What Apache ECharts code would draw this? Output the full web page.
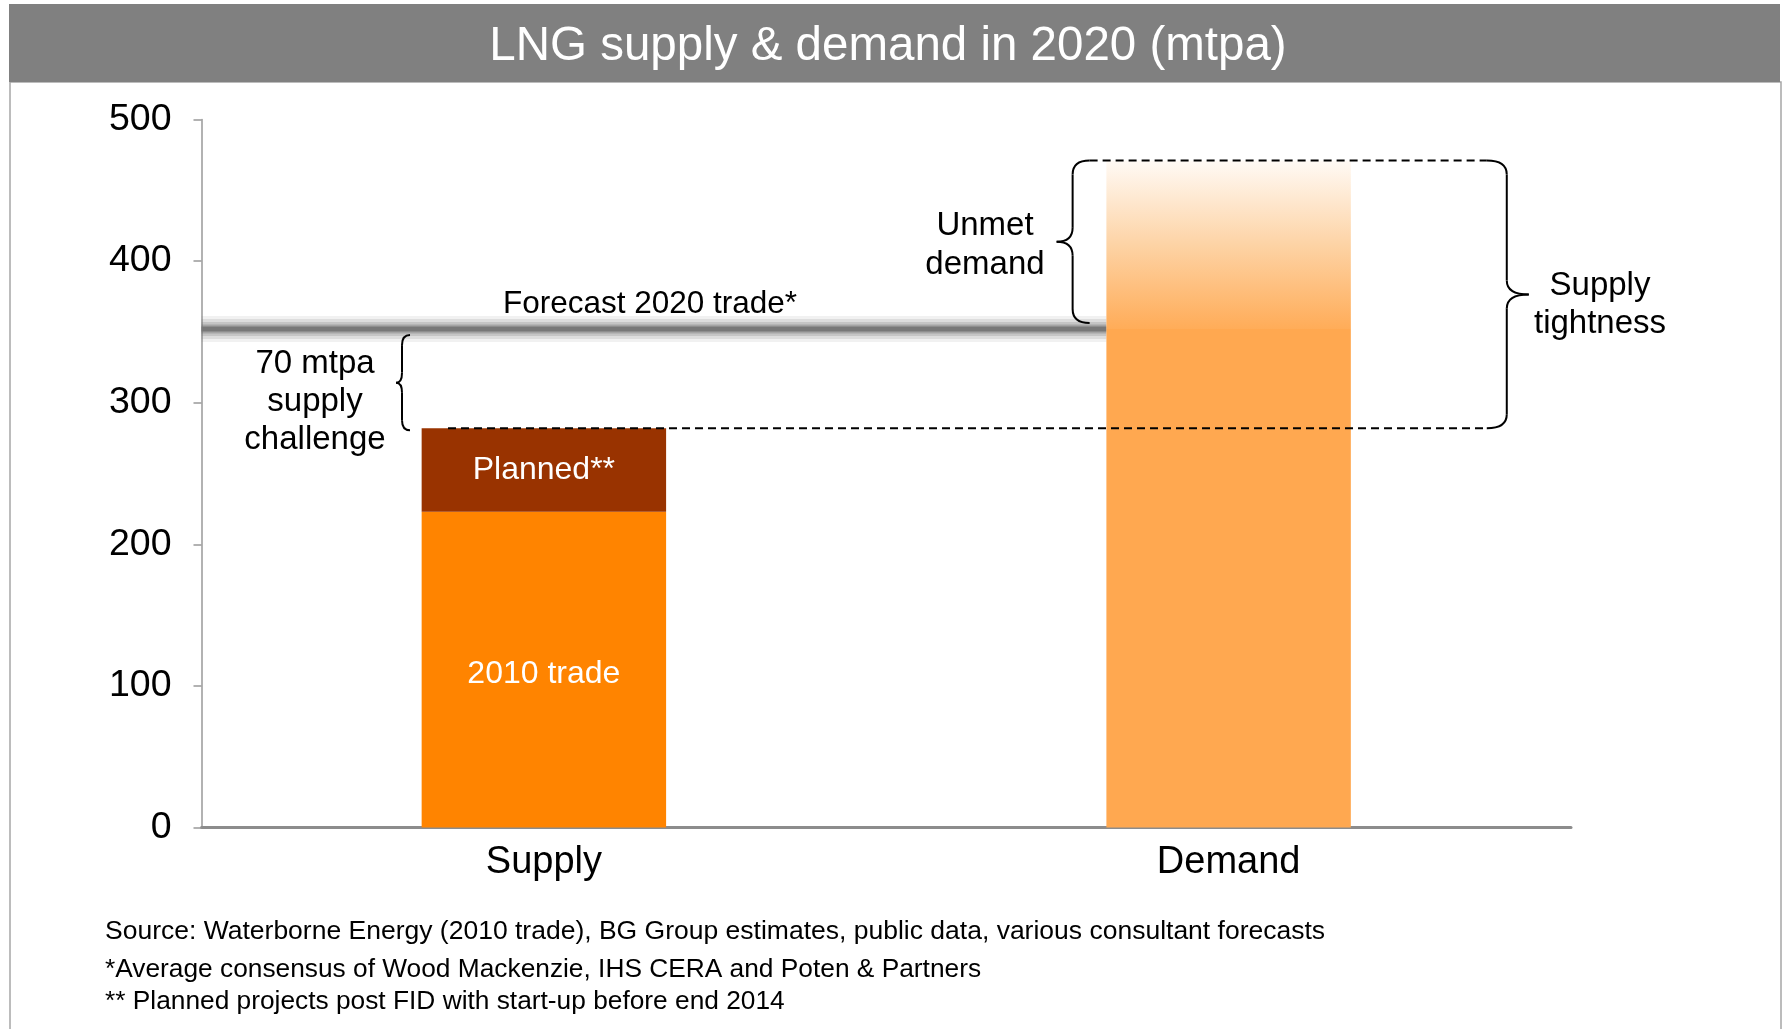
<!DOCTYPE html>
<html>
<head>
<meta charset="utf-8">
<script src="https://cdn.jsdelivr.net/npm/echarts@6/dist/echarts.min.js"></script>
<style>
html,body{margin:0;padding:0;background:#fff;}
#c{width:1785px;height:1029px;}
</style>
</head>
<body>
<div id="c"></div>
<script>
// ---- data ----
const categories = ['Supply', 'Demand'];
const trade2010 = [223, '-'];
const plannedProjects = [59, '-'];
const demandMet = ['-', 352];
const demandUnmet = ['-', 119];
const forecast2020 = 352;
const yMin = 0, yMax = 500, yInterval = 100;

const supplyTotal = trade2010[0] + plannedProjects[0];
const demandTotal = demandMet[1] + demandUnmet[1];

const FONT = "'Liberation Sans', Arial, sans-serif";
const BAR_FRAC = 0.357;
const demandLeftX = 1.5 - BAR_FRAC / 2;

const chart = echarts.init(document.getElementById('c'), null, {renderer: 'canvas'});

function txt(text, x, y, size, opts) {
  opts = opts || {};
  return {
    type: 'text', x: x, y: y, z: 100,
    style: {
      text: text,
      font: 'normal ' + size + 'px ' + FONT,
      fill: opts.fill || '#000',
      align: opts.align || 'center', textAlign: opts.align || 'center',
      verticalAlign: 'middle', textVerticalAlign: 'middle',
      lineHeight: opts.lineHeight || size * 1.2
    }
  };
}

const baseGraphic = [
  {type: 'rect', shape: {x: 10, y: 82, width: 1771, height: 1000}, style: {fill: 'none', stroke: '#a6a6a6', lineWidth: 1.5}, z: 0},
  {type: 'rect', shape: {x: 9, y: 4, width: 1771, height: 78}, style: {fill: '#808080'}, z: 1},
  txt('LNG supply & demand in 2020 (mtpa)', 888, 47, 47.5, {fill: '#fff'}),
  txt('Forecast 2020 trade*', 650, 304, 31.5),
  txt('70 mtpa\nsupply\nchallenge', 315, 402, 33, {lineHeight: 38}),
  txt('Unmet\ndemand', 985, 245, 33, {lineHeight: 39}),
  txt('Supply\ntightness', 1600, 305, 33, {lineHeight: 38}),
  txt('Source: Waterborne Energy (2010 trade), BG Group estimates, public data, various consultant forecasts', 105, 932, 26.5, {align: 'left'}),
  txt('*Average consensus of Wood Mackenzie, IHS CERA and Poten & Partners', 105, 970, 26.3, {align: 'left'}),
  txt('** Planned projects post FID with start-up before end 2014', 105, 1002, 26.3, {align: 'left'})
];

const dashStyle = {color: '#000', width: 2, type: [8, 5]};

function forecastLayer(width, color) {
  return {
    name: 'Forecast', type: 'line', xAxisIndex: 1, yAxisIndex: 0, z: 1,
    symbol: 'none', silent: true,
    data: [[0, forecast2020], [demandLeftX, forecast2020]],
    lineStyle: {color: color, width: width, cap: 'butt'}
  };
}

const option = {
  animation: false,
  backgroundColor: '#fff',
  grid: {left: 201.5, right: 214, top: 119.5, bottom: 201.4, containLabel: false},
  xAxis: [
    {
      type: 'category', data: categories, position: 'bottom',
      axisLine: {show: true, lineStyle: {color: '#8c8c8c', width: 3}},
      axisTick: {show: false},
      axisLabel: {fontSize: 38, color: '#000', fontFamily: FONT, margin: 16},
      splitLine: {show: false}
    },
    {type: 'value', min: 0, max: 2, show: false, position: 'bottom'}
  ],
  yAxis: {
    type: 'value', min: yMin, max: yMax, interval: yInterval,
    axisLine: {show: true, lineStyle: {color: '#999', width: 1.5}},
    axisTick: {show: true, length: 8, lineStyle: {color: '#999', width: 1.5}},
    axisLabel: {fontSize: 37.5, color: '#000', fontFamily: FONT, margin: 30},
    splitLine: {show: false}
  },
  series: [
    {
      name: '2010 trade', type: 'bar', stack: 's', barWidth: (BAR_FRAC * 100) + '%',
      data: trade2010, itemStyle: {color: '#FF8400'}, z: 3,
      label: {show: true, position: 'inside', offset: [0, 4], formatter: '2010 trade', color: '#fff', fontSize: 32, fontFamily: FONT}
    },
    {
      name: 'Planned**', type: 'bar', stack: 's', data: plannedProjects,
      itemStyle: {color: '#993300'}, z: 3,
      label: {show: true, position: 'inside', formatter: 'Planned**', color: '#fff', fontSize: 32, fontFamily: FONT}
    },
    {
      name: 'Demand', type: 'bar', stack: 's', data: demandMet,
      itemStyle: {color: '#FFA850'}, z: 3
    },
    {
      name: 'Unmet demand', type: 'bar', stack: 's', data: demandUnmet, z: 3,
      itemStyle: {color: new echarts.graphic.LinearGradient(0, 0, 0, 1, [
        {offset: 0, color: '#FFFAF5'},
        {offset: 0.5, color: '#FDD3A5'},
        {offset: 1, color: '#FFAC58'}
      ])}
    },
    forecastLayer(26, 'rgba(120,120,120,0.10)'),
    forecastLayer(20, 'rgba(120,120,120,0.16)'),
    forecastLayer(14, 'rgba(120,120,120,0.24)'),
    forecastLayer(9, 'rgba(110,110,110,0.38)'),
    forecastLayer(5, '#787878'),
    {
      name: 'SupplyLevel', type: 'line', xAxisIndex: 1, yAxisIndex: 0, z: 5,
      symbol: 'none', silent: true,
      data: [[0.36, supplyTotal], [1.877, supplyTotal]],
      lineStyle: dashStyle
    },
    {
      name: 'DemandLevel', type: 'line', xAxisIndex: 1, yAxisIndex: 0, z: 5,
      symbol: 'none', silent: true,
      data: [[1.297, demandTotal], [1.877, demandTotal]],
      lineStyle: dashStyle
    }
  ],
  graphic: baseGraphic
};
chart.setOption(option);

function px(x, y) { return chart.convertToPixel({xAxisIndex: 1, yAxisIndex: 0}, [x, y]); }

const braceStyle = {fill: 'none', stroke: '#000', lineWidth: 2};
function curve(x1, y1, cx, cy, x2, y2) {
  return {type: 'bezierCurve', z: 50, shape: {x1: x1, y1: y1, cpx1: cx, cpy1: cy, x2: x2, y2: y2}, style: braceStyle};
}
function seg(x1, y1, x2, y2) {
  return {type: 'line', z: 50, shape: {x1: x1, y1: y1, x2: x2, y2: y2}, style: braceStyle};
}
// brace: xEnd = open ends, xStem = vertical stem, xTip = point
function brace(xEnd, xStem, xTip, yTop, yBot, r) {
  const yMid = (yTop + yBot) / 2;
  return [
    curve(xEnd, yTop, xStem, yTop, xStem, yTop + r),
    seg(xStem, yTop + r, xStem, yMid - r),
    curve(xStem, yMid - r, xStem, yMid, xTip, yMid),
    curve(xTip, yMid, xStem, yMid, xStem, yMid + r),
    seg(xStem, yMid + r, xStem, yBot - r),
    curve(xStem, yBot - r, xStem, yBot, xEnd, yBot)
  ];
}

const yForecast = px(0, forecast2020)[1];
const ySupply = px(0, supplyTotal)[1];
const yDemand = px(0, demandTotal)[1];
const xSupplyDashStart = px(0.36, 0)[0];
const xDemandDashStart = px(1.297, 0)[0];
const xRightEnd = px(1.877, 0)[0];

const braces = [].concat(
  brace(xSupplyDashStart - 38, xSupplyDashStart - 46, xSupplyDashStart - 52, yForecast + 6, ySupply + 2, 10),
  brace(xDemandDashStart, xDemandDashStart - 17, xDemandDashStart - 33, yDemand, yForecast - 6, 14),
  brace(xRightEnd, xRightEnd + 20, xRightEnd + 42, yDemand, ySupply, 14)
);

chart.setOption({graphic: baseGraphic.concat(braces)}, {replaceMerge: ['graphic']});
</script>
</body>
</html>
